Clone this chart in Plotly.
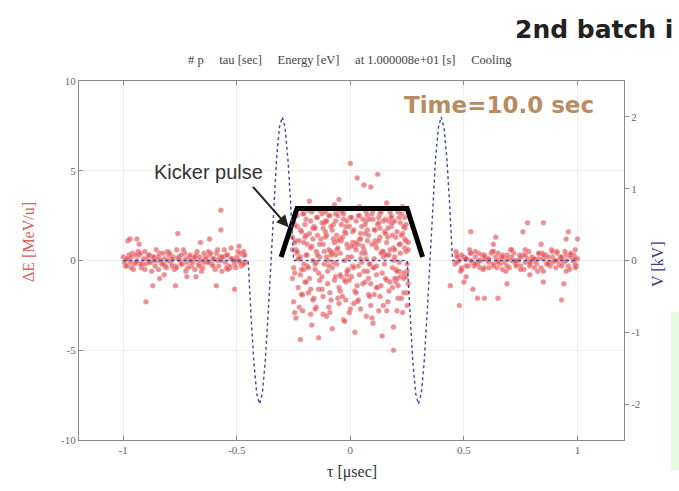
import plotly.graph_objects as go

# ---------------- data ----------------
x_ticks = [-1, -0.5, 0, 0.5, 1]
x_tick_labels = ["-1", "-0.5", "0", "0.5", "1"]
y_ticks = [-10, -5, 0, 5, 10]
y_tick_labels = ["-10", "-5", "0", "5", "10"]
y2_ticks = [-2, -1, 0, 1, 2]
y2_tick_labels = ["-2", "-1", "0", "1", "2"]

# Kicker voltage (kV) vs tau (usec)
v_t = [-1.0, -0.45, -0.4375, -0.425, -0.4125, -0.40, -0.3875, -0.375, -0.3625, -0.35,
       -0.3375, -0.325, -0.3125, -0.30, -0.2875, -0.275, -0.2625, -0.25,
       0.25, 0.2625, 0.275, 0.2875, 0.30, 0.3125, 0.325, 0.3375, 0.35,
       0.3625, 0.375, 0.3875, 0.40, 0.4125, 0.425, 0.4375, 0.45, 1.0]
v_kv = [0.0, 0.0, -0.77, -1.41, -1.85, -2.0, -1.85, -1.41, -0.77, 0.0,
        0.77, 1.41, 1.85, 2.0, 1.85, 1.41, 0.77, 0.0,
        0.0, -0.77, -1.41, -1.85, -2.0, -1.85, -1.41, -0.77, 0.0,
        0.77, 1.41, 1.85, 2.0, 1.85, 1.41, 0.77, 0.0, 0.0]

# Kicker pulse outline (schematic)
kick_t = [-0.305, -0.235, 0.25, 0.318]
kick_de = [0.2, 2.9, 2.9, 0.2]

# Particles: left bunch
left_t = [-1.00, -0.99, -0.98, -0.97, -0.96, -0.95, -0.94, -0.93, -0.92, -0.91,
          -0.90, -0.89, -0.88, -0.87, -0.86, -0.85, -0.84, -0.83, -0.82, -0.81,
          -0.80, -0.79, -0.78, -0.77, -0.76, -0.75, -0.74, -0.73, -0.72, -0.71,
          -0.70, -0.69, -0.68, -0.67, -0.66, -0.65, -0.64, -0.63, -0.62, -0.61,
          -0.60, -0.59, -0.58, -0.57, -0.56, -0.55, -0.54, -0.53, -0.52, -0.51,
          -0.50, -0.49, -0.48, -0.47, -0.46,
          -0.995, -0.975, -0.955, -0.935, -0.915, -0.895, -0.875, -0.855, -0.835, -0.815,
          -0.795, -0.775, -0.755, -0.735, -0.715, -0.695, -0.675, -0.655, -0.635, -0.615,
          -0.595, -0.575, -0.555, -0.535, -0.515, -0.495, -0.475, -0.465,
          -0.985, -0.965, -0.945, -0.925, -0.905, -0.885, -0.865, -0.845, -0.825, -0.805,
          -0.785, -0.765, -0.745, -0.725, -0.705, -0.685, -0.665, -0.645, -0.625, -0.605,
          -0.585, -0.565, -0.545, -0.525, -0.505, -0.485, -0.470,
          -0.985, -0.965, -0.945, -0.925, -0.905, -0.885, -0.865, -0.845, -0.825, -0.805,
          -0.785, -0.765, -0.745, -0.725, -0.705, -0.685, -0.665, -0.645, -0.625, -0.605,
          -0.585, -0.565, -0.545, -0.525, -0.505, -0.485, -0.470,
          -0.98, -0.94, -0.76, -0.57, -0.57, -0.62, -0.97, -0.87, -0.77, -0.59,
          -0.51, -0.90, -0.82, -0.72, -0.68, -0.54, -0.93, -0.66, -0.84, -0.49]
left_de = [0.2, -0.3, 0.1, -0.1, 0.4, -0.2, 0.0, 0.3, -0.4, 0.1,
           -0.2, 0.3, -0.1, 0.2, -0.3, 0.0, 0.4, -0.2, 0.1, -0.4,
           0.3, -0.1, 0.2, -0.3, 0.1, 0.0, -0.2, 0.4, -0.1, 0.2,
           -0.3, 0.1, 0.3, -0.2, 0.0, -0.4, 0.2, -0.1, 0.3, -0.2,
           0.1, 0.4, -0.3, 0.0, 0.2, -0.1, 0.3, -0.4, 0.1, -0.2,
           0.2, 0.0, -0.3, 0.3, -0.1,
           -0.1, 0.3, -0.5, 0.5, -0.2, 0.1, -0.6, 0.6, 0.0, -0.3,
           0.4, -0.5, 0.2, 0.6, -0.4, -0.1, 0.5, -0.6, 0.1, 0.4,
           -0.5, 0.2, 0.6, -0.3, 0.0, 0.5, -0.2, 0.3,
           0.1, -0.4, 0.3, -0.2, 0.5, -0.1, 0.2, -0.5, 0.4, 0.0,
           -0.3, 0.6, -0.2, 0.1, 0.3, -0.5, 0.2, -0.1, 0.5, -0.3,
           0.0, -0.6, 0.3, 0.1, -0.4, 0.4, -0.2,
           -0.3, 0.2, -0.1, 0.4, -0.5, 0.3, 0.0, 0.2, -0.2, 0.5,
           0.1, -0.4, 0.3, -0.6, 0.0, 0.2, -0.3, 0.4, -0.1, 0.1,
           0.6, 0.2, -0.4, 0.7, 0.0, -0.1, 0.5,
           1.1, 1.2, 1.5, 2.8, 1.7, 1.2, 1.2, -1.4, -1.4, -1.4,
           -1.6, -2.3, -0.8, -0.9, -0.9, -0.5, 0.9, 1.0, -1.0, 0.8]

# Particles: right bunch
right_t = [0.46, 0.47, 0.48, 0.49, 0.50, 0.51, 0.52, 0.53, 0.54, 0.55,
           0.56, 0.57, 0.58, 0.59, 0.60, 0.61, 0.62, 0.63, 0.64, 0.65,
           0.66, 0.67, 0.68, 0.69, 0.70, 0.71, 0.72, 0.73, 0.74, 0.75,
           0.76, 0.77, 0.78, 0.79, 0.80, 0.81, 0.82, 0.83, 0.84, 0.85,
           0.86, 0.87, 0.88, 0.89, 0.90, 0.91, 0.92, 0.93, 0.94, 0.95,
           0.96, 0.97, 0.98, 0.99, 1.00,
           0.465, 0.485, 0.505, 0.525, 0.545, 0.565, 0.585, 0.605, 0.625, 0.645,
           0.665, 0.685, 0.705, 0.725, 0.745, 0.765, 0.785, 0.805, 0.825, 0.845,
           0.865, 0.885, 0.905, 0.925, 0.945, 0.965, 0.985, 0.995,
           0.47, 0.49, 0.51, 0.53, 0.55, 0.57, 0.59, 0.61, 0.63, 0.65,
           0.67, 0.69, 0.71, 0.73, 0.75, 0.77, 0.79, 0.81, 0.83, 0.85,
           0.87, 0.89, 0.91, 0.93, 0.95, 0.97, 0.99,
           0.47, 0.49, 0.51, 0.53, 0.55, 0.57, 0.59, 0.61, 0.63, 0.65,
           0.67, 0.69, 0.71, 0.73, 0.75, 0.77, 0.79, 0.81, 0.83, 0.85,
           0.87, 0.89, 0.91, 0.93, 0.95, 0.97, 0.99,
           0.78, 0.85, 0.53, 0.76, 0.96, 0.64, 0.95, 1.00, 0.84, 0.63,
           0.99, 0.44, 0.50, 0.54, 0.56, 0.59, 0.48, 0.65, 0.69, 0.85,
           0.94, 0.93, 0.51, 0.79]
right_de = [-0.2, 0.3, 0.0, -0.4, 0.2, 0.1, -0.3, 0.4, -0.1, 0.2,
            -0.2, 0.0, 0.3, -0.4, 0.1, -0.1, 0.4, -0.3, 0.2, 0.0,
            -0.2, 0.3, -0.1, 0.1, -0.4, 0.2, 0.4, -0.2, 0.0, -0.3,
            0.3, -0.1, 0.1, -0.3, 0.2, 0.0, -0.2, 0.4, -0.4, 0.1,
            0.3, -0.1, -0.3, 0.2, 0.0, 0.4, -0.2, 0.1, -0.1, 0.3,
            -0.3, 0.2, 0.0, -0.2, 0.1,
            0.5, -0.6, 0.1, 0.6, -0.3, 0.4, -0.5, 0.0, 0.5, -0.4,
            0.2, -0.6, 0.6, -0.1, 0.3, -0.5, 0.5, 0.1, -0.6, 0.4,
            -0.2, 0.6, -0.4, 0.2, 0.5, -0.5, 0.3, -0.3,
            0.2, -0.5, 0.1, 0.4, -0.2, 0.0, 0.3, -0.4, 0.5, -0.1,
            0.2, -0.3, 0.6, 0.0, -0.5, 0.3, -0.2, 0.1, 0.4, -0.6,
            0.2, -0.1, 0.5, -0.3, 0.0, 0.3, -0.4,
            -0.1, 0.3, -0.3, 0.0, 0.5, -0.4, 0.2, 0.1, -0.2, 0.4,
            -0.5, 0.3, 0.0, -0.3, 0.2, 0.6, -0.1, -0.4, 0.1, 0.3,
            -0.2, 0.5, 0.0, 0.2, -0.6, 0.4, 0.1,
            2.1, 2.1, 1.6, 1.6, 1.6, 1.3, 1.2, 1.2, 0.9, 0.9,
            0.6, -1.4, -1.2, -1.6, -2.1, -2.1, -2.5, -2.1, -1.3, -1.2,
            -1.3, -2.2, -0.9, -0.8]

# Particles: central (kicked) bunch
center_t = [-0.25, -0.24, -0.25, -0.23, -0.24, -0.25, -0.22, -0.24, -0.23,
            -0.21, -0.22, -0.20, -0.21, -0.22, -0.20, -0.21, -0.19, -0.22, -0.20,
            -0.18, -0.17, -0.19, -0.18, -0.17, -0.16, -0.18, -0.17, -0.19, -0.16,
            -0.15, -0.14, -0.15, -0.13, -0.14, -0.15, -0.13, -0.14, -0.12, -0.15,
            -0.12, -0.11, -0.10, -0.12, -0.11, -0.10, -0.12, -0.11, -0.10, -0.11,
            -0.09, -0.08, -0.07, -0.09, -0.08, -0.07, -0.09, -0.08, -0.07, -0.08,
            -0.06, -0.05, -0.04, -0.06, -0.05, -0.04, -0.06, -0.05, -0.04, -0.05,
            -0.03, -0.02, -0.01, -0.03, -0.02, -0.01, -0.03, -0.02, -0.01, -0.02,
            0.00, 0.01, 0.02, 0.00, 0.01, 0.02, 0.00, 0.01, 0.02, 0.01,
            0.03, 0.04, 0.05, 0.03, 0.04, 0.05, 0.03, 0.04, 0.05, 0.04,
            0.06, 0.07, 0.08, 0.06, 0.07, 0.08, 0.06, 0.07, 0.08, 0.07,
            0.09, 0.10, 0.11, 0.09, 0.10, 0.11, 0.09, 0.10, 0.11, 0.10,
            0.12, 0.13, 0.14, 0.12, 0.13, 0.14, 0.12, 0.13, 0.14, 0.13,
            0.15, 0.16, 0.17, 0.15, 0.16, 0.17, 0.15, 0.16, 0.17, 0.16,
            0.18, 0.19, 0.20, 0.18, 0.19, 0.20, 0.18, 0.19, 0.20, 0.19,
            0.21, 0.22, 0.23, 0.21, 0.22, 0.23, 0.21, 0.22, 0.23, 0.22,
            0.24, 0.25, 0.24, 0.25, 0.24, 0.25, 0.24, 0.25, 0.24,
            -0.235, -0.195, -0.155, -0.125, -0.085, -0.045, -0.015, 0.025, 0.065, 0.105,
            0.145, 0.185, 0.215, -0.205, -0.165, -0.105, -0.065, -0.025, 0.035, 0.075,
            0.115, 0.155, 0.195, 0.235, -0.245, -0.175, -0.135, -0.095, -0.055, 0.005,
            0.045, 0.085, 0.125, 0.165, 0.205, 0.245]
center_t += [-0.255, -0.245, -0.235, -0.225, -0.215, -0.205, -0.195, -0.185, -0.175, -0.165,
             -0.155, -0.145, -0.135, -0.125, -0.115, -0.105, -0.095, -0.085, -0.075, -0.065,
             -0.055, -0.045, -0.035, -0.025, -0.015, -0.005, 0.005, 0.015, 0.025, 0.035,
             0.045, 0.055, 0.065, 0.075, 0.085, 0.095, 0.105, 0.115, 0.125, 0.135,
             0.145, 0.155, 0.165, 0.175, 0.185, 0.195, 0.205, 0.215, 0.225, 0.235,
             0.245, 0.255] * 3
center_de = [2.2, 1.1, -0.4, -1.5, 0.6, -2.3, 1.7, -3.2, 0.1,
             2.6, -0.8, 1.3, -1.9, 0.2, 2.0, -2.8, 0.9, -4.4, -1.2,
             1.5, 2.7, -0.3, -1.0, 0.8, -2.1, 3.3, -3.6, 0.3, 1.9,
             2.4, -1.6, 0.5, 1.2, -0.7, -2.6, 2.9, -4.3, 1.8, -0.1,
             0.9, 2.2, -1.3, -3.0, 1.6, 0.0, -2.0, 2.7, -0.6, 1.3,
             2.5, -0.4, 1.0, -1.8, 0.4, 3.1, -2.9, 1.7, -1.1, -3.8,
             1.4, 2.8, -0.9, 0.6, -2.4, 2.0, -0.2, -1.5, 1.1, 3.4,
             2.3, -1.2, 0.7, -3.3, 1.9, -0.5, 2.6, -2.2, 0.2, 1.5,
             5.4, 1.0, -1.7, 2.4, -0.3, 0.8, -2.7, 1.6, -4.0, 2.9,
             4.6, -0.8, 1.9, -1.4, 2.5, 0.4, -2.3, 1.2, -0.1, 3.0,
             4.2, 2.2, -1.0, 0.6, -3.1, 1.4, -0.6, 2.7, -1.9, 0.1,
             4.1, -0.4, 1.7, -2.5, 2.3, 0.9, -1.3, -3.5, 1.1, 2.8,
             4.8, 1.3, -0.7, 2.0, -2.0, 0.5, -1.5, 2.6, -4.2, 1.8,
             2.9, -1.1, 0.3, 1.6, -2.8, 2.2, -0.2, 1.0, -1.7, 3.2,
             2.5, 0.7, -1.2, 1.9, -3.7, -0.5, 2.4, -5.0, 1.3, 0.0,
             2.7, -0.9, 1.5, -2.1, 0.4, 3.0, -1.4, 2.1, -2.9, 0.9,
             1.8, -0.6, 2.4, -1.8, 0.7, -2.5, 1.2, -0.2, 2.9,
             0.4, 1.4, -0.2, 2.1, 0.3, 1.2, -0.8, 0.6, 2.0, -0.4,
             0.5, 1.4, -0.6, -0.5, 1.8, 0.2, 2.2, -1.1, 0.9, 1.7,
             -0.3, 2.3, 0.6, -1.0, 1.0, -1.6, 0.2, 2.5, 0.7, -0.9,
             1.5, -0.2, 2.1, 0.3, -1.0, 1.1]
center_de += [1.3, -0.7, 2.5, 0.1, -1.9, 1.0, 2.3, -0.4, 0.7, -2.2,
              1.8, 0.3, -1.1, 2.6, -0.2, 1.4, -2.6, 0.5, 2.0, -0.9,
              1.1, -1.7, 2.7, 0.0, -0.6, 1.9, 0.8, -2.4, 2.2, -0.3,
              1.2, -1.3, 0.4, 2.5, -2.0, 0.9, 1.7, -0.8, 2.4, -1.4,
              0.2, 1.5, -2.3, 0.6, 2.1, -1.0, 1.6, -0.1, 2.6, -1.8,
              0.5, 1.0,
              -1.0, 2.0, 0.5, -2.6, 1.6, -0.2, -1.2, 2.8, -3.0, 1.2,
              -0.5, 2.4, 0.9, -1.6, 2.1, -3.1, 0.6, 1.9, -0.1, 2.6,
              -2.1, 0.4, 1.3, -3.4, 2.2, -1.1, 0.2, 1.7, -1.8, 2.5,
              -2.7, 0.8, 1.5, -0.6, 2.3, -3.2, 0.1, -1.5, 1.1, 2.7,
              -2.5, 0.3, 1.8, -1.2, -0.4, 2.2, -2.8, 0.9, 1.4, -0.7,
              2.0, -1.3,
              0.6, -2.9, 1.9, 1.1, -0.5, 2.6, 0.3, -1.8, 2.2, 0.0,
              -2.7, 1.4, 2.8, -0.9, 0.5, 2.2, -0.3, -2.2, 1.2, 0.3,
              2.5, -0.8, -2.0, 1.6, 0.9, -2.9, 2.4, -0.4, 1.0, -2.2,
              0.1, 2.3, -1.2, 1.1, -0.2, 2.6, -1.9, 0.7, -2.8, 0.4,
              2.2, -1.0, 1.3, 2.7, -1.5, 0.2, -0.6, 2.4, -2.1, 1.9,
              -0.9, 0.6]

# ---------------- figure ----------------
SERIF = "Liberation Serif, Times New Roman, serif"
pt_color = "rgba(222,75,80,0.62)"
pt_line = dict(color="rgba(245,165,165,0.8)", width=0.6)

fig = go.Figure()

for tt, dd in [(left_t, left_de), (right_t, right_de), (center_t, center_de)]:
    fig.add_trace(go.Scatter(x=tt, y=dd, mode="markers",
                             marker=dict(size=5, color=pt_color, line=pt_line),
                             showlegend=False, hoverinfo="skip"))

fig.add_trace(go.Scatter(x=kick_t, y=kick_de, mode="lines",
                         line=dict(color="black", width=5),
                         showlegend=False, hoverinfo="skip"))

fig.add_trace(go.Scatter(x=v_t, y=v_kv, mode="lines", yaxis="y2",
                         line=dict(color="#3d4a98", width=1.4, dash="dot"),
                         showlegend=False, hoverinfo="skip"))

axis_common = dict(showline=True, linecolor="#8a8a8a", linewidth=1.2,
                   zeroline=False, ticks="inside", ticklen=4, tickcolor="#8a8a8a",
                   tickfont=dict(family=SERIF, size=11, color="#666"))


def px_x(px):
    return (px - 79) / 545


def px_y(py):
    return (440 - py) / 359


fig.update_layout(
    width=679, height=491,
    margin=dict(l=79, r=55, t=81, b=51),
    paper_bgcolor="white", plot_bgcolor="white",
    xaxis=dict(range=[-1.195, 1.205], tickvals=x_ticks, ticktext=x_tick_labels,
               mirror="ticks", showgrid=True, gridcolor="#eeeeee", gridwidth=1,
               **axis_common),
    yaxis=dict(range=[-10, 10], tickvals=y_ticks, ticktext=y_tick_labels,
               mirror=True, showgrid=True, gridcolor="#eeeeee", gridwidth=1,
               **axis_common),
    yaxis2=dict(range=[-2.5, 2.5], tickvals=y2_ticks, ticktext=y2_tick_labels,
                overlaying="y", side="right", showgrid=False, zeroline=False,
                showline=False, ticks="outside", ticklen=4, tickcolor="#8a8a8a",
                tickfont=dict(family=SERIF, size=11, color="#666")),
    shapes=[dict(type="rect", xref="paper", yref="paper",
                 x0=px_x(671), x1=px_x(690), y0=px_y(312), y1=px_y(470),
                 fillcolor="#e4fbe0", line=dict(width=0), layer="below")],
    annotations=[
        dict(text="# p     tau [sec]     Energy [eV]     at 1.000008e+01 [s]     Cooling",
             xref="paper", yref="paper", x=px_x(350), y=px_y(60),
             xanchor="center", yanchor="middle", showarrow=False,
             font=dict(family=SERIF, size=12.5, color="#444")),
        dict(text="2nd batch i", xref="paper", yref="paper",
             x=px_x(513), y=px_y(30), xanchor="left", yanchor="middle",
             showarrow=False,
             font=dict(family="DejaVu Sans", size=25, color="#222", weight="bold")),
        dict(text="Time=10.0 sec", xref="paper", yref="paper",
             x=px_x(499), y=px_y(105), xanchor="center", yanchor="middle", showarrow=False,
             font=dict(family="DejaVu Sans", size=23, color="#b98c5f", weight="bold")),
        dict(text="Kicker pulse", xref="paper", yref="paper",
             x=px_x(208), y=px_y(172), xanchor="center", yanchor="middle", showarrow=False,
             font=dict(family="Liberation Sans, Arial", size=20, color="#333")),
        dict(text="", x=-0.272, y=1.85, xref="x", yref="y", showarrow=True,
             ax=-37, ay=-42, arrowhead=2, arrowsize=1.2, arrowwidth=2, arrowcolor="#222"),
        dict(text="ΔE [MeV/u]", xref="paper", yref="paper",
             x=px_x(28), y=px_y(242), xanchor="center", yanchor="middle",
             textangle=-90, showarrow=False,
             font=dict(family=SERIF, size=16, color="#d9605a")),
        dict(text="V [kV]", xref="paper", yref="paper",
             x=px_x(657), y=px_y(265), xanchor="center", yanchor="middle",
             textangle=-90, showarrow=False,
             font=dict(family=SERIF, size=16, color="#3a3a85")),
        dict(text="τ [μsec]", xref="paper", yref="paper",
             x=px_x(352), y=px_y(472), xanchor="center", yanchor="middle", showarrow=False,
             font=dict(family=SERIF, size=16, color="#333")),
    ],
)

fig.write_html("out.html", config={"displayModeBar": False},
               post_script="document.body.style.margin='0px';")
